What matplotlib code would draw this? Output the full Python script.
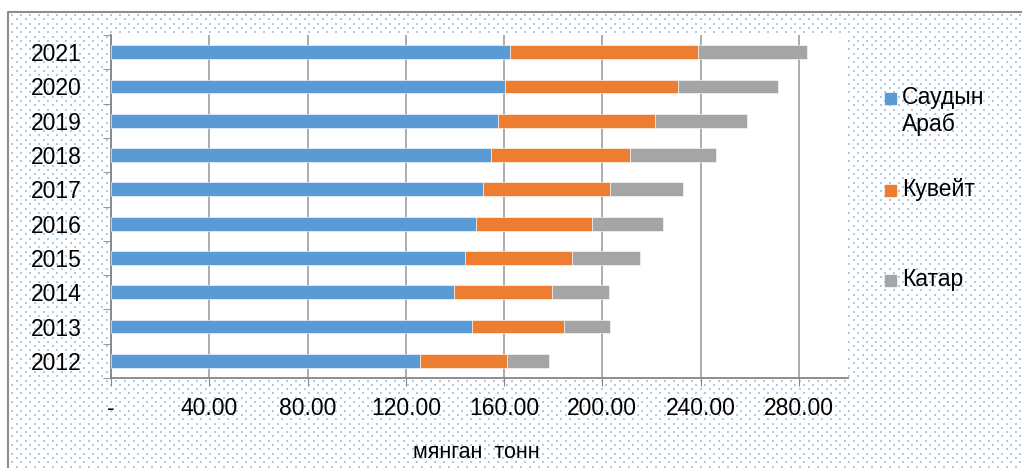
import numpy as np
import matplotlib.pyplot as plt
from matplotlib.patches import Rectangle

plt.rcParams["font.family"] = ["Liberation Sans", "DejaVu Sans"]

years = ["2012", "2013", "2014", "2015", "2016", "2017", "2018", "2019", "2020", "2021"]
saudi = [125.7, 146.9, 139.8, 144.2, 148.4, 151.5, 154.6, 157.5, 160.2, 162.3]
kuwait = [35.3, 37.6, 39.6, 43.6, 47.2, 51.8, 56.8, 64.0, 70.5, 76.6]
qatar = [17.4, 18.6, 23.3, 27.7, 29.2, 29.6, 34.8, 37.5, 40.8, 44.4]

series_names = ["Саудын\nАраб", "Кувейт", "Катар"]
colors = ["#5b9bd5", "#ed7d31", "#a5a5a5"]
xticks = [0, 40, 80, 120, 160, 200, 240, 280]
xtick_labels = ["-", "40.00", "80.00", "120.00", "160.00", "200.00", "240.00", "280.00"]

W, H = 1022, 468
fig = plt.figure(figsize=(W / 100, H / 100), dpi=100)

# dotted background + frame
bg = fig.add_axes([0, 0, 1, 1], zorder=0)
bg.set_xlim(0, W)
bg.set_ylim(H, 0)
bg.axis("off")
rows = np.arange(15, H, 4.3)
px, py = [], []
for i, yy in enumerate(rows):
    xs = np.arange(12 + (4.5 if i % 2 else 0), W, 9)
    px.extend(xs)
    py.extend([yy] * len(xs))
bg.scatter(px, py, s=0.8, marker="s", color="#a9cbea", linewidths=0)
bg.plot([8, 8, W], [H, 12, 12], color="#8c8c8c", lw=1.5)

ax = fig.add_axes([111 / W, 1 - 378 / H, (848 - 111) / W, (378 - 35) / H], zorder=1)
ax.set_facecolor("white")

y = np.arange(len(years))
h = 0.4
left = np.zeros(len(years))
for vals, c in zip([saudi, kuwait, qatar], colors):
    ax.barh(y, vals, height=h, left=left, color=c, edgecolor="white", linewidth=0.4, zorder=3)
    left = left + np.array(vals)

ax.set_xlim(0, 300)
ax.set_ylim(-0.5, len(years) - 0.5)
ax.set_xticks(xticks)
ax.set_xticklabels(xtick_labels, fontsize=16.5)
ax.set_yticks(y)
ax.set_yticklabels(years, fontsize=16.5)
ax.set_yticks(np.arange(-0.5, len(years)), minor=True)
ax.tick_params(axis="y", which="major", length=0, pad=21)
ax.tick_params(axis="y", which="minor", length=6, color="#868686", direction="out")
ax.tick_params(axis="x", length=6, color="#868686", pad=8)
ax.grid(axis="x", color="#a6a6a6", lw=1.3, zorder=0)
ax.set_axisbelow(True)
for s in ["top", "right"]:
    ax.spines[s].set_visible(False)
for s in ["left", "bottom"]:
    ax.spines[s].set_color("#868686")
    ax.spines[s].set_linewidth(1.3)

fig.text(476 / W, 1 - 452 / H, "мянган  тонн", fontsize=15.5, ha="center", va="center")

# legend
leg_y = [98, 190, 280]
for name, c, ly in zip(series_names, colors, leg_y):
    bg.add_patch(Rectangle((885, ly - 5.5), 11, 11, color=c, zorder=2))
    bg.text(902, ly - 12, name, fontsize=16.5, va="top", ha="left", linespacing=1.2)

fig.savefig("out.png", dpi=100)
